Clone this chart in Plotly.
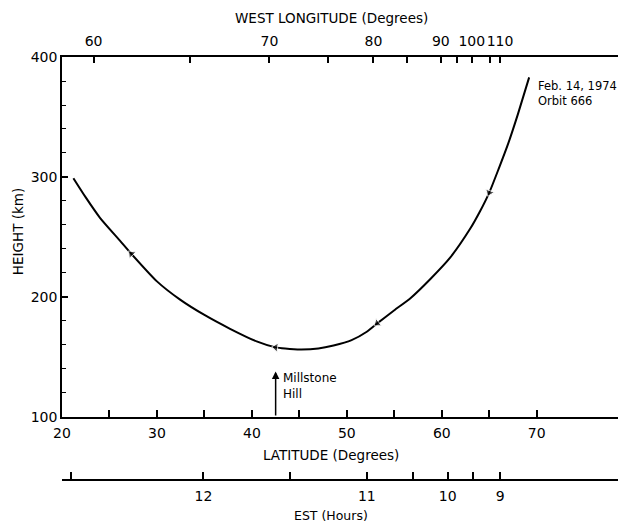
import plotly.graph_objects as go

# Orbit track: latitude (deg) vs height (km), ordered in direction of travel
lat = [69.2, 68.0, 67.0, 66.0, 65.0, 64.0, 63.0, 60.9, 58.8, 56.7, 55.0, 53.2,
       52.1, 50.5, 48.6, 47.0, 45.1, 43.5, 42.5, 40.5, 37.7, 35.0, 32.4, 30.0,
       27.3, 26.1, 24.0, 22.5, 21.2]
height = [383, 352, 328, 307, 287, 271, 257, 233, 215, 199, 189, 178,
          171, 164, 159.5, 157, 156.2, 157, 158, 163, 173.5, 185, 198, 213,
          236, 247, 266, 283, 299]
# direction arrows drawn at these latitudes
arrow_lats = [65.0, 53.2, 42.5, 27.3]

# Top axis: west longitude ticks (positions in latitude units along the track)
lon_pos = [23.33, 33.5, 41.85, 47.98, 52.8, 56.38, 59.9, 61.58, 63.16, 65.08, 66.13]
lon_lab = ["60", "", "70", "", "80", "", "90", "", "100", "", "110"]

# Bottom axis: EST (hours) ticks (positions in latitude units)
est_pos = [20.95, 34.9, 44.03, 52.1, 56.95, 60.63, 63.33, 66.14]
est_lab = ["", "12", "", "11", "", "10", "", "9"]

lat_ticks = [20, 25, 30, 35, 40, 45, 50, 55, 60, 65, 70]
lat_labels = ["20", "", "30", "", "40", "", "50", "", "60", "", "70"]

millstone_lat = 42.5
millstone_top = 138

FONT = "DejaVu Sans"
xr = [20, 79.4]

sizes = [8 if v in arrow_lats else 0 for v in lat]

fig = go.Figure()
fig.add_trace(go.Scatter(
    x=lat, y=height, mode="lines+markers",
    line=dict(color="black", width=2, shape="spline", smoothing=0.6),
    marker=dict(symbol="triangle-up", size=sizes, color="black", angleref="previous"),
    hoverinfo="skip", showlegend=False))

axis_common = dict(showgrid=False, zeroline=False, showline=True, linecolor="black",
                   linewidth=1.5, ticks="inside", tickwidth=1.5, tickcolor="black",
                   tickfont=dict(size=14), automargin=False, tickangle=0)

# the page body adds an 8px offset, so the figure is 8px smaller than the window
fig.update_layout(
    width=618, height=515,
    margin=dict(l=54, r=0, t=49, b=43, autoexpand=False),
    paper_bgcolor="white", plot_bgcolor="white",
    font=dict(family=FONT, size=13, color="black"),
    showlegend=False,
    xaxis=dict(range=xr, domain=[0, 1], anchor="y",
               tickmode="array", tickvals=lat_ticks, ticktext=lat_labels,
               ticklen=7, ticklabelstandoff=2, **axis_common),
    xaxis2=dict(range=xr, overlaying="x", side="top", anchor="y",
                tickmode="array", tickvals=lon_pos, ticktext=lon_lab,
                ticklen=6, ticklabelstandoff=4, **axis_common),
    xaxis3=dict(range=xr, overlaying="x", side="bottom", anchor="free", position=0,
                tickmode="array", tickvals=est_pos, ticktext=est_lab,
                ticklen=7, ticklabelstandoff=3, **axis_common),
    yaxis=dict(range=[100, 400], domain=[0.149, 1], tick0=100, dtick=100,
               ticklen=6,
               minor=dict(dtick=20, ticks="inside", ticklen=4, tickcolor="black",
                          tickwidth=1.2),
               **axis_common),
)
# dummy traces so the extra axes are shown
fig.add_trace(go.Scatter(x=[None], y=[None], xaxis="x2", showlegend=False))
fig.add_trace(go.Scatter(x=[None], y=[None], xaxis="x3", showlegend=False))

# axis titles
title_kw = dict(xref="paper", yref="paper", showarrow=False,
                xanchor="center", yanchor="middle")
fig.add_annotation(text="WEST LONGITUDE (Degrees)", x=0.477, y=1.092,
                   font=dict(size=13.5), **title_kw)
fig.add_annotation(text="LATITUDE (Degrees)", x=0.477, y=0.059,
                   font=dict(size=13.5), **title_kw)
fig.add_annotation(text="EST (Hours)", x=0.477, y=-0.083,
                   font=dict(size=12.5), **title_kw)
fig.add_annotation(text="HEIGHT (km)", x=-0.078, y=0.586, textangle=-90,
                   font=dict(size=13.5), **title_kw)

fig.add_annotation(x=millstone_lat, y=millstone_top, ax=millstone_lat, ay=100,
                   xref="x", yref="y", axref="x", ayref="y", text="",
                   showarrow=True, arrowhead=2, arrowsize=1, arrowwidth=1.5,
                   arrowcolor="black")
fig.add_annotation(x=millstone_lat, y=126, xref="x", yref="y", xshift=5,
                   text="Millstone<br>Hill", showarrow=False, xanchor="left",
                   yanchor="middle", align="left", font=dict(size=12))
fig.add_annotation(x=69.2, y=383, xref="x", yref="y", xshift=7, yshift=0,
                   text="Feb. 14, 1974<br>Orbit 666", showarrow=False,
                   xanchor="left", yanchor="top", align="left", font=dict(size=11.5))

fig.write_html("out.html")
